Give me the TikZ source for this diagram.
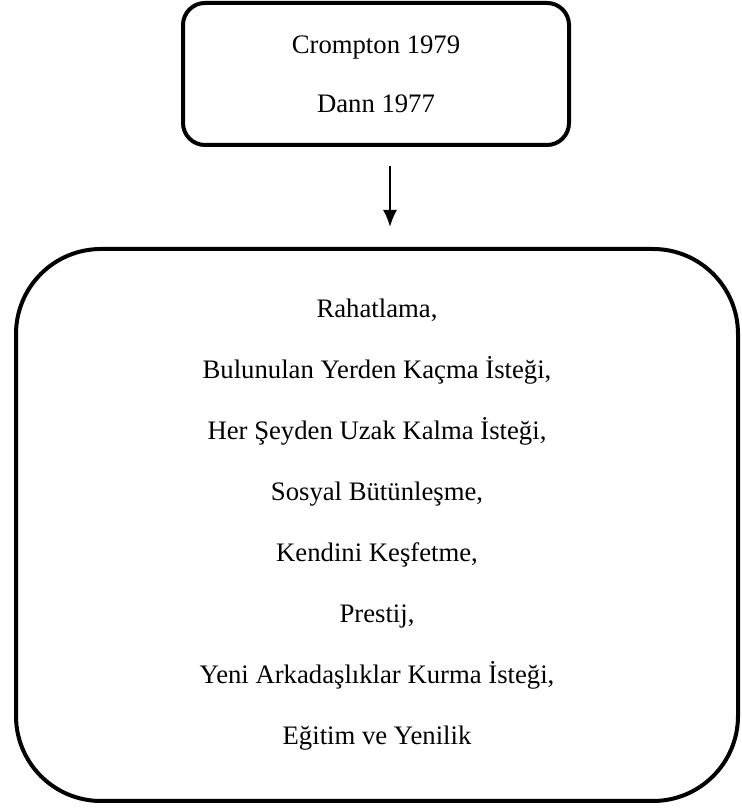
\documentclass[tikz,border=0pt]{standalone}
\usepackage{fontspec}
\setmainfont{Liberation Serif}
\usetikzlibrary{arrows.meta}
\tikzset{
  kutu/.style={draw,line width=4pt,align=center,inner sep=0pt,
    font=\fontsize{26.7}{61}\selectfont},
  ok/.style={-{Latex[length=17pt,width=14pt]},line width=2pt}
}
\begin{document}
\begin{tikzpicture}[x=1pt,y=1pt]
\useasboundingbox (0,0) rectangle (741,810);
\node[kutu,rounded corners=22pt,minimum width=386pt,minimum height=142pt,
  font=\fontsize{26.7}{59}\selectfont] (kaynak) at (376,736) {Crompton 1979\\Dann 1977};
\node[kutu,rounded corners=85pt,minimum width=722pt,minimum height=552pt] (liste) at (377,285)
  {Rahatlama,\\Bulunulan Yerden Kaçma İsteği,\\Her Şeyden Uzak Kalma İsteği,\\
   Sosyal Bütünleşme,\\Kendini Keşfetme,\\Prestij,\\Yeni Arkadaşlıklar Kurma İsteği,\\
   Eğitim ve Yenilik};
\coordinate (a1) at ([xshift=14pt,yshift=-19pt]kaynak.south);
\coordinate (a2) at ([xshift=13pt,yshift=20pt]liste.north);
\draw[ok] (a1) -- (a2);
\end{tikzpicture}
\end{document}
